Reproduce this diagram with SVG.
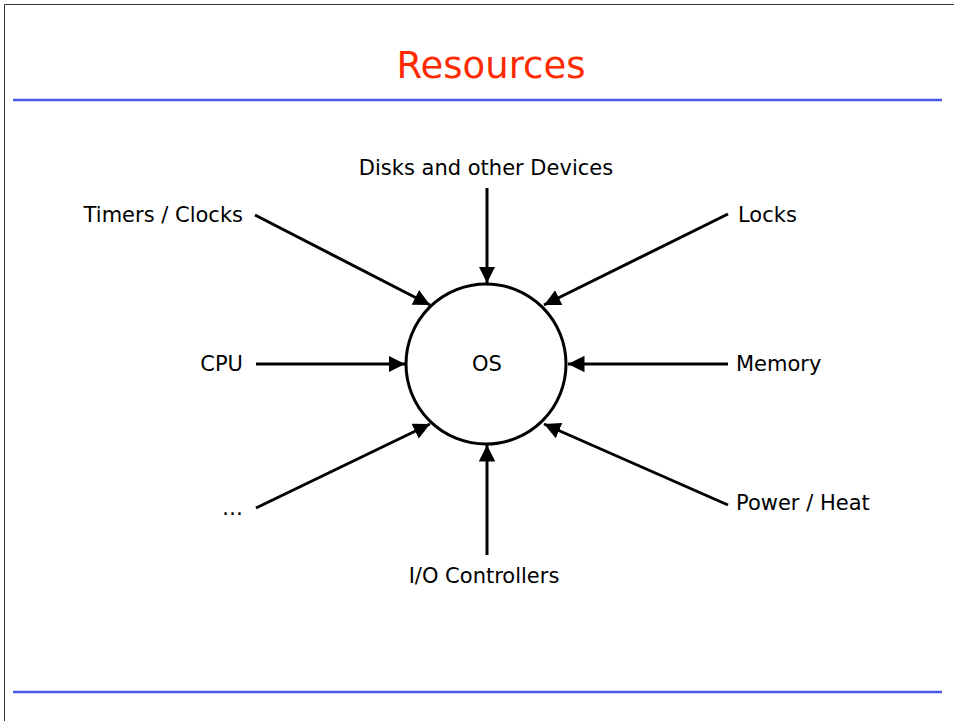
<svg xmlns="http://www.w3.org/2000/svg" width="954" height="721" viewBox="0 0 954 721">
<defs>
<style>
.lbl{font-family:"DejaVu Sans","Liberation Sans",sans-serif;font-size:21px;fill:#000}
.title{font-family:"DejaVu Sans","Liberation Sans",sans-serif;font-size:37px;fill:#ff2a00}
.rule{stroke:#4a5ae6;stroke-width:2.5}
.conn{stroke:#000;stroke-width:3;fill:none;marker-end:url(#ah)}
</style>
<marker id="ah" viewBox="0 0 10 10" refX="10" refY="5" markerWidth="5.5" markerHeight="5.5" markerUnits="strokeWidth" orient="auto">
<path d="M0,0 L10,5 L0,10 z" fill="#000"/>
</marker>
</defs>
<rect width="954" height="721" fill="#fff"/>
<path d="M4.5,721 V4.5 H954" fill="none" stroke="#333" stroke-width="1"/>
<text class="title" x="491" y="78" text-anchor="middle">Resources</text>
<line class="rule" x1="13" y1="100" x2="942" y2="100"/>
<line class="rule" x1="13" y1="692" x2="942" y2="692"/>
<g id="os">
<circle cx="486" cy="364" r="80" fill="#fff" stroke="#000" stroke-width="3"/>
<text class="lbl" x="487" y="371" text-anchor="middle">OS</text>
</g>
<g id="disks"><text class="lbl" x="486" y="175" text-anchor="middle">Disks and other Devices</text></g>
<g id="timers"><text class="lbl" x="243" y="222" text-anchor="end">Timers / Clocks</text></g>
<g id="locks"><text class="lbl" x="738" y="222">Locks</text></g>
<g id="cpu"><text class="lbl" x="243" y="371" text-anchor="end">CPU</text></g>
<g id="memory"><text class="lbl" x="736" y="371">Memory</text></g>
<g id="etc"><text class="lbl" x="243" y="515" text-anchor="end">…</text></g>
<g id="power"><text class="lbl" x="736" y="510">Power / Heat</text></g>
<g id="io"><text class="lbl" x="484" y="583" text-anchor="middle">I/O Controllers</text></g>
<g id="connectors">
<line class="conn" x1="487" y1="188" x2="487" y2="283"/>
<line class="conn" x1="255" y1="215" x2="430" y2="305"/>
<line class="conn" x1="728" y1="214" x2="544" y2="305"/>
<line class="conn" x1="256" y1="364" x2="405" y2="364"/>
<line class="conn" x1="728" y1="364" x2="568" y2="364"/>
<line class="conn" x1="256" y1="508" x2="430" y2="424"/>
<line class="conn" x1="728" y1="505" x2="544" y2="424"/>
<line class="conn" x1="487" y1="555" x2="487" y2="445"/>
</g>
</svg>
